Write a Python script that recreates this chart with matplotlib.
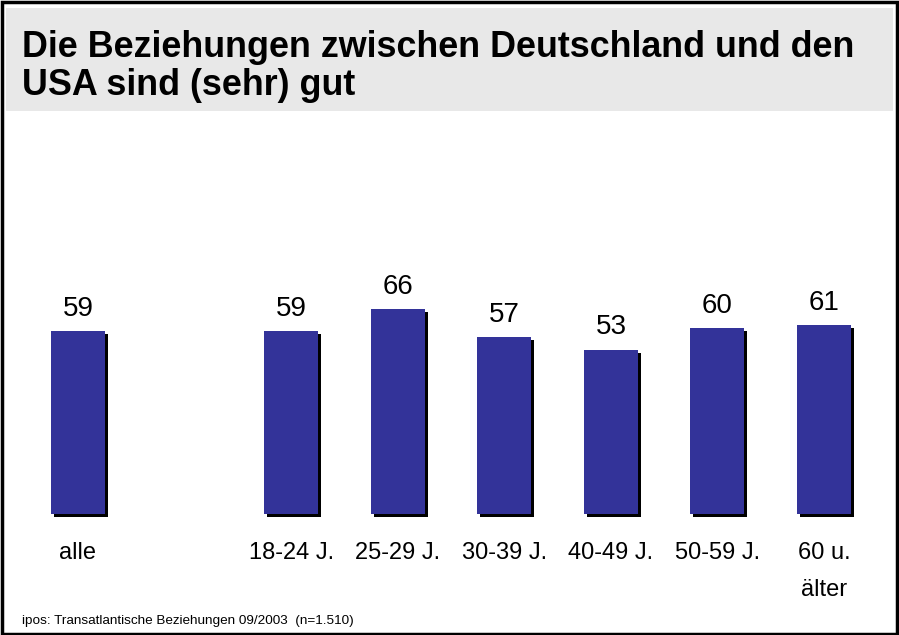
import matplotlib
matplotlib.use('Agg')
import matplotlib.pyplot as plt
from matplotlib.patches import Rectangle
import numpy as np

categories = ['alle', '18-24 J.', '25-29 J.', '30-39 J.', '40-49 J.', '50-59 J.', '60 u.\nälter']
positions = [0, 2, 3, 4, 5, 6, 7]
values = [59, 59, 66, 57, 53, 60, 61]

title_lines = ['Die Beziehungen zwischen Deutschland und den', 'USA sind (sehr) gut']
source = 'ipos: Transatlantische Beziehungen 09/2003  (n=1.510)'

plt.rcParams['font.family'] = ['Liberation Sans', 'DejaVu Sans']

W, H = 899, 635
fig = plt.figure(figsize=(W / 100, H / 100), dpi=100)


def px(x0, y0, x1, y1):
    # pixel box (from top-left) -> figure fraction [left, bottom, width, height]
    return [x0 / W, 1 - y1 / H, (x1 - x0) / W, (y1 - y0) / H]


# outer frame and grey title band
fig.patches.append(Rectangle((1.5 / W, 1.5 / H), 1 - 3.5 / W, 1 - 3.5 / H,
                             transform=fig.transFigure, fill=False,
                             edgecolor='black', linewidth=2.5))
b = px(6, 8, 893, 111)
fig.patches.append(Rectangle((b[0], b[1]), b[2], b[3], transform=fig.transFigure,
                             facecolor='#e8e8e8', edgecolor='none'))
for i, line in enumerate(title_lines):
    fig.text(22 / W, 1 - (57 + 38 * i) / H, line, fontsize=25.8, fontweight='bold',
             ha='left', va='baseline')

fig.text(22 / W, 1 - 621 / H, source, fontsize=9.7, ha='left', va='center')

# axes: bar bottom at y=514px, 3.1 px per unit
ax = fig.add_axes(px(24.7, 514 - 310, 877.3, 514))
ax.set_xlim(-0.5, 7.5)
ax.set_ylim(0, 100)
ax.axis('off')

x = np.array(positions, dtype=float)
dx = 3.0 / 106.6
dy = 3.0 / 3.1
ax.bar(x + dx, values, width=0.507, bottom=-dy, color='black', clip_on=False, zorder=1)
ax.bar(x, values, width=0.507, color='#333399', clip_on=False, zorder=2)

for xi, v in zip(x, values):
    ax.annotate(str(v), (xi, v), xytext=(0, 11), textcoords='offset points',
                ha='center', va='baseline', fontsize=20)

for xi, lab in zip(x, categories):
    ax.annotate(lab, (xi, 0), xytext=(0, -20), textcoords='offset points',
                ha='center', va='top', fontsize=17, linespacing=1.9,
                annotation_clip=False)

fig.savefig('out.png', dpi=100)
